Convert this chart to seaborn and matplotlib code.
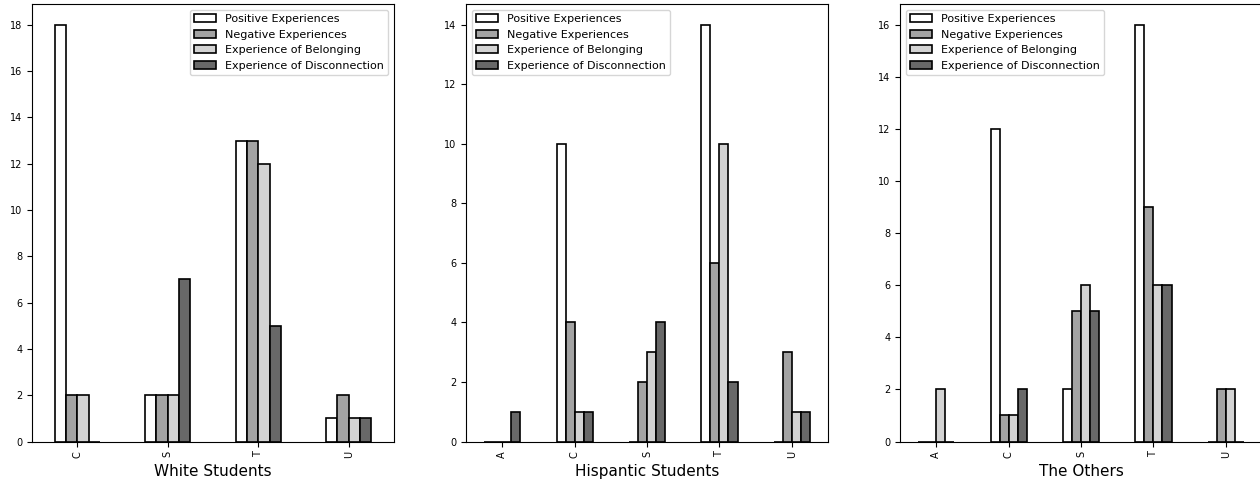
import matplotlib
matplotlib.use("Agg")
import matplotlib.pyplot as plt
from matplotlib.patches import Patch
from matplotlib.ticker import MultipleLocator
import pandas as pd
import seaborn as sns

series = ["Positive Experiences", "Negative Experiences",
          "Experience of Belonging", "Experience of Disconnection"]
colors = ["#ffffff", "#a3a3a3", "#d3d3d3", "#686868"]

white_cats = ["C", "S", "T", "U"]
white_pos = [18, 2, 13, 1]
white_neg = [2, 2, 13, 2]
white_bel = [2, 2, 12, 1]
white_dis = [0, 7, 5, 1]

hisp_cats = ["A", "C", "S", "T", "U"]
hisp_pos = [0, 10, 0, 14, 0]
hisp_neg = [0, 4, 2, 6, 3]
hisp_bel = [0, 1, 3, 10, 1]
hisp_dis = [1, 1, 4, 2, 1]

other_cats = ["A", "C", "S", "T", "U"]
other_pos = [0, 12, 2, 16, 0]
other_neg = [0, 1, 5, 9, 2]
other_bel = [2, 1, 6, 6, 2]
other_dis = [0, 2, 5, 6, 0]

panels = [
    ("White Students", white_cats, [white_pos, white_neg, white_bel, white_dis], "upper right"),
    ("Hispantic Students", hisp_cats, [hisp_pos, hisp_neg, hisp_bel, hisp_dis], "upper left"),
    ("The Others", other_cats, [other_pos, other_neg, other_bel, other_dis], "upper left"),
]


def to_long(cats, values):
    rows = []
    for name, vals in zip(series, values):
        for c, v in zip(cats, vals):
            rows.append({"code": c, "type": name, "count": v})
    return pd.DataFrame(rows)


fig = plt.figure(figsize=(12.6, 4.82), dpi=100)
W, H = 1260, 482
lefts = [32, 466, 900]
palette = dict(zip(series, colors))

for left, (title, cats, values, loc) in zip(lefts, panels):
    ax = fig.add_axes([left / W, 40.5 / H, 362 / W, 437.5 / H])
    df = to_long(cats, values)
    sns.barplot(data=df, x="code", y="count", hue="type", order=cats,
                hue_order=series, palette=palette, width=0.5, gap=0,
                edgecolor="black", linewidth=1.2, saturation=1,
                legend=False, ax=ax)
    ax.set_xlim(-0.5, len(cats) - 0.5)
    ax.yaxis.set_major_locator(MultipleLocator(2))
    ax.set_xlabel(title, fontsize=11)
    ax.set_ylabel("")
    ax.tick_params(axis="x", labelrotation=90, labelsize=7)
    ax.tick_params(axis="y", labelsize=7)
    handles = [Patch(facecolor=c, edgecolor="black", linewidth=1.2) for c in colors]
    ax.legend(handles, series, loc=loc, fontsize=8)

fig.savefig("out.png", dpi=100)
